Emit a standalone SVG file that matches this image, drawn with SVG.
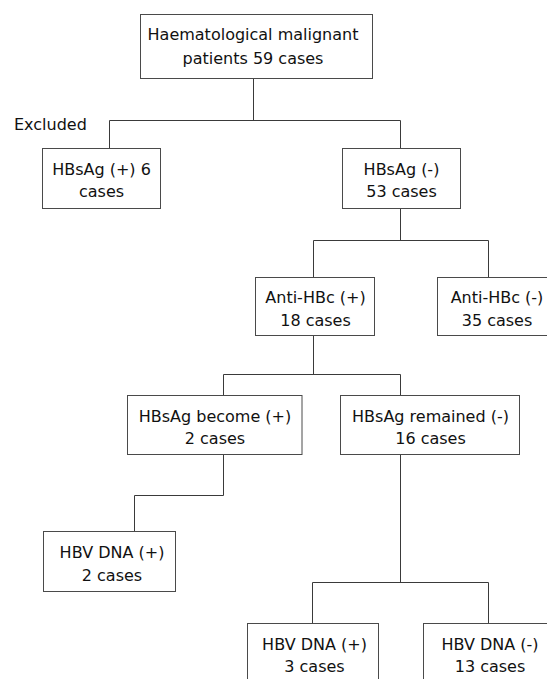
<svg xmlns="http://www.w3.org/2000/svg" width="547" height="679" viewBox="0 0 547 679">
<style>
.box{fill:#fff;stroke:#4a4a4a;stroke-width:1}
.t{font-family:"DejaVu Sans",Verdana,sans-serif;font-size:16px;fill:#111;text-anchor:middle}
.conn{fill:none;stroke:#3a3a3a;stroke-width:1}
</style>
<rect width="547" height="679" fill="#fff"/>
<g id="connectors" class="conn">
<path d="M253.5 78.5V120.5M109.5 120.5H400.5M109.5 120.5V148.5M400.5 120.5V148.5"/>
<path d="M400.5 208.5V240.5M313.5 240.5H488.5M313.5 240.5V277.5M488.5 240.5V277.5"/>
<path d="M313.5 335.5V374.5M223.5 374.5H400.5M223.5 374.5V395.5M400.5 374.5V395.5"/>
<path d="M223.5 454.5V495.5H134.5V531.5"/>
<path d="M400.5 454.5V582.5M312.5 582.5H488.5M312.5 582.5V623.5M488.5 582.5V623.5"/>
</g>
<g id="n-root"><rect class="box" x="140.5" y="14.5" width="232" height="64"/><text class="t" x="253" y="39.5">Haematological malignant</text><text class="t" x="253" y="63.5">patients 59 cases</text></g>
<g id="n-excluded-label"><text x="14" y="130" font-family="DejaVu Sans, Verdana, sans-serif" font-size="16" fill="#111">Excluded</text></g>
<g id="n-hbsag-pos"><rect class="box" x="42.5" y="148.5" width="118" height="60"/><text class="t" x="101.5" y="174.5">HBsAg (+) 6</text><text class="t" x="101.5" y="197">cases</text></g>
<g id="n-hbsag-neg"><rect class="box" x="342.5" y="148.5" width="118" height="60"/><text class="t" x="401.5" y="174.5">HBsAg (-)</text><text class="t" x="401.5" y="197">53 cases</text></g>
<g id="n-antihbc-pos"><rect class="box" x="255.5" y="277.5" width="119" height="58"/><text class="t" x="315.5" y="303">Anti-HBc (+)</text><text class="t" x="315.5" y="325.5">18 cases</text></g>
<g id="n-antihbc-neg"><rect class="box" x="437.5" y="277.5" width="119" height="58"/><text class="t" x="497" y="303">Anti-HBc (-)</text><text class="t" x="497" y="325.5">35 cases</text></g>
<g id="n-become-pos"><rect class="box" x="127.5" y="395.5" width="174.5" height="59"/><text class="t" x="215" y="421.5">HBsAg become (+)</text><text class="t" x="215" y="444">2 cases</text></g>
<g id="n-remained-neg"><rect class="box" x="340.5" y="395.5" width="179" height="59"/><text class="t" x="430.5" y="421.5">HBsAg remained (-)</text><text class="t" x="430.5" y="444">16 cases</text></g>
<g id="n-dna-pos-2"><rect class="box" x="43.5" y="531.5" width="132" height="60"/><text class="t" x="112" y="557.5">HBV DNA (+)</text><text class="t" x="112" y="580.5">2 cases</text></g>
<g id="n-dna-pos-3"><rect class="box" x="247.5" y="623.5" width="131" height="70"/><text class="t" x="314.5" y="650">HBV DNA (+)</text><text class="t" x="314.5" y="672">3 cases</text></g>
<g id="n-dna-neg-13"><rect class="box" x="423.5" y="623.5" width="134" height="70"/><text class="t" x="490" y="650">HBV DNA (-)</text><text class="t" x="490" y="672">13 cases</text></g>
</svg>
